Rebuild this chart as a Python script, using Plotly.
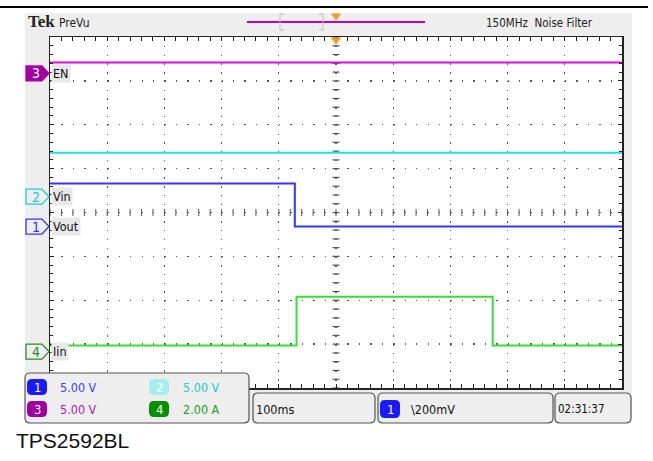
import numpy as np
import plotly.graph_objects as go

# ---------------- data ----------------
# time axis: 100 ms/div, 10 divisions, trigger at centre
time_per_div_ms = 100
n_xdiv = 10
n_ydiv = 8

# Ch1 Vout (5 V/div)
t_vout = [-500, -72, -72, 500]
v_vout = [4.9, 4.9, 0.0, 0.0]
# Ch2 Vin (5 V/div)
t_vin = [-500, 500]
v_vin = [5.0, 5.0]
# Ch3 EN (5 V/div)
t_en = [-500, 500]
v_en = [1.25, 1.25]
# Ch4 Iin (2 A/div)
t_iin = [-500, -69, -69, 274, 274, 500]
i_iin = [0.28, 0.28, 2.5, 2.5, 0.28, 0.28]

ch_names = ["Vout", "Vin", "EN", "Iin"]
ch_numbers = ["1", "2", "3", "4"]
ch_scales = [5.0, 5.0, 5.0, 2.0]            # units per division
ch_zero_div = [3.68, 4.36, 7.17, 0.83]      # ground marker position (div from bottom)
scale_labels = ["5.00 V", "5.00 V", "5.00 V", "2.00 A"]
timebase_label = "100ms"
trigger_label = "\\200mV"
clock_label = "02:31:37"
header_right = "150MHz  Noise Filter"
caption = "TPS2592BL"

# ---------------- styling ----------------
W, H = 653, 461
PL, PR, PT, PB = 50, 622, 37, 388
PXDIV = (PB - PT) / n_ydiv
NARROW = "Liberation Sans Narrow, DejaVu Sans Condensed, Arial Narrow, sans-serif"
trace_colors = ["#3434ff", "#22dede", "#dc0adc", "#33e033"]
text_colors = ["#3c3cff", "#20c8c8", "#b01ab0", "#22a022"]
badge_fill = ["#1a1aff", "#a6eeee", "#a000a0", "#009000"]
marker_colors = ["#3434ff", "#22cccc", "#b000b0", "#2a8a2a"]
FS = 12.5


def px(x):
    return (x - PL) / (PR - PL)


def py(y):
    return (PB - y) / (PB - PT)


def rrect(x0, y0, x1, y1, r):
    pts = [
        f"M {px(x0 + r)},{py(y0)}",
        f"L {px(x1 - r)},{py(y0)}",
        f"Q {px(x1)},{py(y0)} {px(x1)},{py(y0 + r)}",
        f"L {px(x1)},{py(y1 - r)}",
        f"Q {px(x1)},{py(y1)} {px(x1 - r)},{py(y1)}",
        f"L {px(x0 + r)},{py(y1)}",
        f"Q {px(x0)},{py(y1)} {px(x0)},{py(y1 - r)}",
        f"L {px(x0)},{py(y0 + r)}",
        f"Q {px(x0)},{py(y0)} {px(x0 + r)},{py(y0)} Z",
    ]
    return " ".join(pts)


fig = go.Figure()

half_t = time_per_div_ms * n_xdiv / 2

# graticule centre-line cross ticks (on the division axis)
minor_x = np.arange(-half_t, half_t + 0.1, time_per_div_ms / 5)
minor_y = np.arange(0, n_ydiv + 0.01, 0.2)
fig.add_trace(go.Scatter(x=minor_x, y=[n_ydiv / 2] * len(minor_x), mode="markers",
                         marker=dict(symbol="line-ns", size=5, line=dict(width=1, color="#555")),
                         hoverinfo="skip", showlegend=False, xaxis="x", yaxis="y"))
fig.add_trace(go.Scatter(x=[0] * len(minor_y), y=minor_y, mode="markers",
                         marker=dict(symbol="line-ew", size=5, line=dict(width=1.2, color="#555")),
                         hoverinfo="skip", showlegend=False, xaxis="x", yaxis="y"))

series = [(t_en, v_en, 2), (t_vin, v_vin, 1), (t_vout, v_vout, 0), (t_iin, i_iin, 3)]
for t, v, i in series:
    fig.add_trace(go.Scatter(x=t, y=v, mode="lines", name=ch_names[i],
                             line=dict(color=trace_colors[i], width=2),
                             showlegend=False, xaxis="x", yaxis=f"y{i + 2}"))

layout = dict(
    width=W, height=H, autosize=False,
    margin=dict(l=PL, r=W - PR, t=PT, b=H - PB, pad=0),
    paper_bgcolor="white", plot_bgcolor="white",
    showlegend=False,
    xaxis=dict(range=[-half_t, half_t], dtick=time_per_div_ms, tick0=0,
               showgrid=True, gridcolor="#555555", gridwidth=1.4,
               griddash=f"1.4px,{PXDIV / 5 - 1.4:.3f}px",
               ticks="inside", ticklen=4, tickcolor="#222", tickwidth=1,
               minor=dict(dtick=time_per_div_ms / 5, tick0=0, ticks="inside",
                          ticklen=3, tickcolor="#222", showgrid=False),
               showticklabels=False, showline=True, linecolor="#222", linewidth=1.5,
               mirror="allticks", zeroline=False, fixedrange=True),
    yaxis=dict(range=[0, n_ydiv], dtick=1, tick0=0,
               showgrid=True, gridcolor="#555555", gridwidth=1.4,
               griddash=f"1.4px,{(PR - PL) / n_xdiv / 5 - 1.4:.3f}px",
               ticks="inside", ticklen=4, tickcolor="#222", tickwidth=1,
               minor=dict(dtick=0.2, tick0=0, ticks="inside", ticklen=3,
                          tickcolor="#222", showgrid=False),
               showticklabels=False, showline=True, linecolor="#222", linewidth=1.5,
               mirror="allticks", zeroline=False, fixedrange=True),
)
for i in range(4):
    s, z = ch_scales[i], ch_zero_div[i]
    layout[f"yaxis{i + 2}"] = dict(range=[-z * s, (n_ydiv - z) * s], overlaying="y",
                                   visible=False, fixedrange=True)
fig.update_layout(**layout)

shapes = []
ann = []
# grey instrument panel, white graticule face
shapes.append(dict(type="rect", xref="paper", yref="paper", x0=px(25), x1=px(632),
                   y0=py(423), y1=py(13), fillcolor="#eeeeee", line=dict(width=0), layer="below"))
shapes.append(dict(type="rect", xref="paper", yref="paper", x0=0, x1=1, y0=0, y1=1,
                   fillcolor="white", line=dict(width=0), layer="below"))
# top rule of page
shapes.append(dict(type="line", xref="paper", yref="paper", x0=px(0), x1=px(648),
                   y0=py(7), y1=py(7), line=dict(color="black", width=2), layer="above"))
# record view
shapes.append(dict(type="line", xref="paper", yref="paper", x0=px(247), x1=px(425),
                   y0=py(22), y1=py(22), line=dict(color="#c000c0", width=2), layer="above"))
for p in ["M {a},{b} L {c},{b} L {c},{d} L {a},{d}".format(a=px(284), b=py(14), c=px(280), d=py(30)),
          "M {a},{b} L {c},{b} L {c},{d} L {a},{d}".format(a=px(319), b=py(14), c=px(323), d=py(30))]:
    shapes.append(dict(type="path", xref="paper", yref="paper", path=p,
                       line=dict(color="#bdbdbd", width=1), layer="above"))
for yy in [14, 38]:
    shapes.append(dict(type="path", xref="paper", yref="paper",
                       path=f"M {px(331.5)},{py(yy)} L {px(340.5)},{py(yy)} L {px(336)},{py(yy + 6)} Z",
                       fillcolor="#f0a020", line=dict(color="#f0a020", width=1), layer="above"))

ann.append(dict(x=px(26), y=py(22), xref="paper", yref="paper", text="<b>Tek</b>",
                showarrow=False, xanchor="left", yanchor="middle",
                font=dict(family="Liberation Serif, DejaVu Serif, serif", size=17, color="#222")))
ann.append(dict(x=px(57), y=py(23), xref="paper", yref="paper", text="PreVu",
                showarrow=False, xanchor="left", yanchor="middle",
                font=dict(family=NARROW, size=12, color="#222")))
ann.append(dict(x=px(484), y=py(23), xref="paper", yref="paper", text=header_right,
                showarrow=False, xanchor="left", yanchor="middle",
                font=dict(family=NARROW, size=11.5, color="#222")))

# channel ground markers and labels
for i in range(4):
    s = ch_scales[i]
    hh = 7.5 / PXDIV * s
    yr = f"y{i + 2}"
    path = (f"M {px(26)},{-hh} L {px(42)},{-hh} L {px(49)},0 "
            f"L {px(42)},{hh} L {px(26)},{hh} Z")
    filled = (i == 2)
    shapes.append(dict(type="path", xref="paper", yref=yr, path=path,
                       fillcolor=badge_fill[i] if filled else "rgba(0,0,0,0)",
                       line=dict(color=marker_colors[i], width=1.3), layer="above"))
    ann.append(dict(x=px(35.5), y=0, xref="paper", yref=yr, text=ch_numbers[i],
                    showarrow=False, xanchor="center", yanchor="middle",
                    font=dict(family=NARROW, size=14,
                              color="white" if filled else marker_colors[i])))
    ann.append(dict(x=px(51), y=0, xref="paper", yref=yr, text=ch_names[i],
                    showarrow=False, xanchor="left", yanchor="middle",
                    bgcolor="#e8e8e8", borderpad=1,
                    font=dict(family=NARROW, size=FS, color="#111")))

# bottom info boxes
box_style = dict(type="path", xref="paper", yref="paper", fillcolor="#eeeeee",
                 line=dict(color="#555", width=1.2), layer="above")
shapes.append(dict(path=rrect(25, 373, 249, 423, 5), **box_style))
shapes.append(dict(path=rrect(253, 393, 375, 423, 5), **box_style))
shapes.append(dict(path=rrect(378, 393, 553, 423, 5), **box_style))
shapes.append(dict(path=rrect(555, 393, 631, 423, 5), **box_style))

badge_pos = [(27, 379, 58), (149, 379, 181), (27, 401, 58), (149, 401, 181)]
for i in range(4):
    bx, by, tx = badge_pos[i]
    shapes.append(dict(type="path", xref="paper", yref="paper",
                       path=rrect(bx, by, bx + 20, by + 16, 5),
                       fillcolor=badge_fill[i], line=dict(width=0), layer="above"))
    ann.append(dict(x=px(bx + 10), y=py(by + 8), xref="paper", yref="paper",
                    text=ch_numbers[i], showarrow=False, xanchor="center", yanchor="middle",
                    font=dict(family=NARROW, size=13, color="white")))
    ann.append(dict(x=px(tx), y=py(by + 8), xref="paper", yref="paper",
                    text=scale_labels[i], showarrow=False, xanchor="left", yanchor="middle",
                    font=dict(family=NARROW, size=FS, color=text_colors[i])))

shapes.append(dict(type="path", xref="paper", yref="paper", path=rrect(380, 400, 400, 418, 5),
                   fillcolor=badge_fill[0], line=dict(width=0), layer="above"))
ann.append(dict(x=px(390), y=py(409), xref="paper", yref="paper", text="1",
                showarrow=False, xanchor="center", yanchor="middle",
                font=dict(family=NARROW, size=13, color="white")))
ann.append(dict(x=px(409), y=py(409), xref="paper", yref="paper", text=trigger_label,
                showarrow=False, xanchor="left", yanchor="middle",
                font=dict(family=NARROW, size=FS, color="#111")))
ann.append(dict(x=px(254), y=py(409), xref="paper", yref="paper", text=timebase_label,
                showarrow=False, xanchor="left", yanchor="middle",
                font=dict(family=NARROW, size=FS, color="#111")))
ann.append(dict(x=px(556), y=py(409), xref="paper", yref="paper", text=clock_label,
                showarrow=False, xanchor="left", yanchor="middle",
                font=dict(family=NARROW, size=11.5, color="#111")))

ann.append(dict(x=px(14), y=py(440), xref="paper", yref="paper", text=caption,
                showarrow=False, xanchor="left", yanchor="middle",
                font=dict(family="Liberation Sans, Arial, sans-serif", size=21, color="#111")))

fig.update_layout(shapes=shapes, annotations=ann)
fig.write_html("out.html", config={"displayModeBar": False, "staticPlot": True},
               post_script="document.body.style.margin='0';document.body.style.overflow='hidden';")
